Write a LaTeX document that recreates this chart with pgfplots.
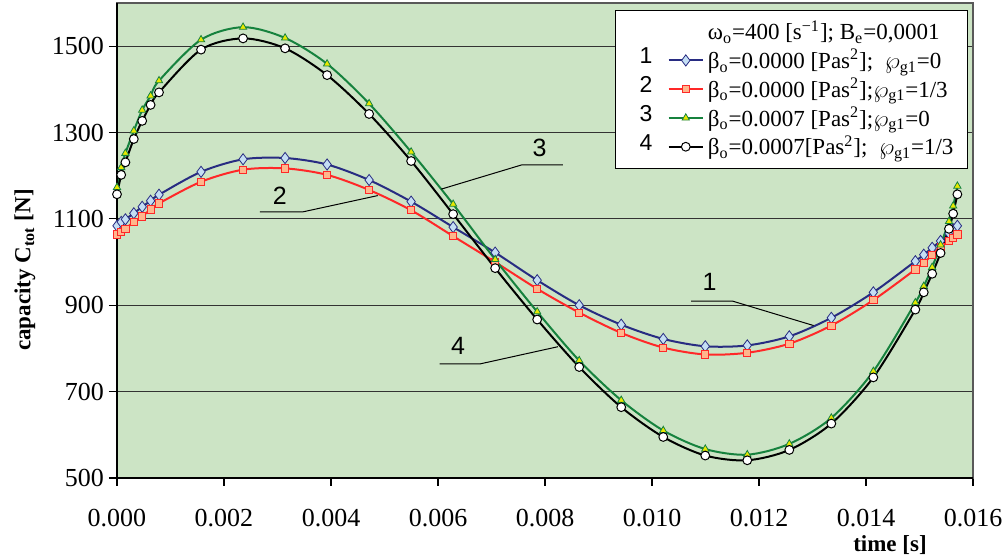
\documentclass[border=0pt]{standalone}
\usepackage{fontspec}
\setmainfont{Liberation Serif}
\newfontfamily\arial{Liberation Sans}
\usepackage{pgfplots}
\pgfplotsset{compat=1.18}
\usepackage{pgfplotstable}
\definecolor{bg}{RGB}{204,228,197}
\definecolor{navy}{RGB}{40,44,130}
\definecolor{lblue}{RGB}{196,222,244}
\definecolor{cred}{RGB}{255,40,40}
\definecolor{lorange}{RGB}{255,182,140}
\definecolor{cgreen}{RGB}{22,130,62}
\definecolor{cyellow}{RGB}{232,232,0}

\pgfplotstableread{
t s1 s2 s3 s4
0         1084 1064 1173 1157
0.0000785 1093 1070 1219 1202
0.0001571 1099 1077 1252 1231
0.0003142 1113 1093 1304 1285
0.0004712 1128 1106 1352 1327
0.0006283 1142 1122 1385 1364
0.0007854 1156 1136 1420 1393
0.0015708 1209 1186 1515 1492
0.0023562 1238 1214 1544 1518
0.0031416 1241 1217 1519 1495
0.0039270 1226 1202 1459 1433
0.0047124 1190 1167 1367 1343
0.0054978 1140 1120 1255 1234
0.0062832 1081 1060 1134 1111
0.0070686 1022 1000 1006 986
0.0078540 958  938  885  867
0.0086394 900  883  772  757
0.0094248 855  836  680  664
0.0102102 822  802  610  595
0.0109956 805  786  567  552
0.0117810 807  790  554  541
0.0125664 828  811  579  565
0.0133518 871  853  639  626
0.0141372 930  912  747  733
0.0149226 1002 983  906  890
0.0150796 1017 999  944  930
0.0152367 1033 1016 988  973
0.0153938 1049 1036 1040 1021
0.0155509 1067 1049 1094 1077
0.0156294 1076 1056 1130 1112
0.0157080 1084 1064 1176 1157
}\datatable

\pgfplotsset{
  numimg/.style={legend image code/.code={
    \path (-21pt,0pt);
    \node[font=\arial\fontsize{11.5}{13}\selectfont, text=black, inner sep=0pt] at (-15pt,1.5pt) {#1};
    \draw[mark repeat=2,mark phase=2,##1] plot coordinates {(0cm,0cm) (0.3cm,0cm) (0.6cm,0cm)};
  }},
}

\begin{document}
\begin{tikzpicture}
\begin{axis}[
  scale only axis, width=428pt, height=237.5pt,
  xmin=0, xmax=0.016, ymin=500, ymax=1600,
  clip=false,
  xtick={0,0.002,0.004,0.006,0.008,0.01,0.012,0.014,0.016},
  ytick={500,700,900,1100,1300,1500},
  ymajorgrids, grid style={black!80, line width=0.5pt},
  axis background/.style={fill=bg},
  tick align=outside, major tick length=4pt,
  xtick pos=lower, ytick pos=left,
  tick style={black, line width=0.6pt},
  axis line style={gray!70!black, line width=0.6pt},
  scaled x ticks=false,
  xticklabel style={/pgf/number format/fixed, /pgf/number format/fixed zerofill, /pgf/number format/precision=3, yshift=-8pt},
  yticklabel style={/pgf/number format/1000 sep={}, xshift=1pt},
  /pgf/number format/assume math mode=true,
  tick label style={font=\fontsize{13}{15}\selectfont},
  xlabel={time [s]},
  ylabel={capacity C\textsubscript{tot} [N]},
  every axis x label/.style={at={(axis description cs:0.903,-0.141)}, anchor=center, font=\bfseries\fontsize{11.5}{13}\selectfont},
  every axis y label/.style={at={(axis description cs:-0.1075,0.438)}, rotate=90, anchor=center, font=\bfseries\fontsize{11.5}{13}\selectfont},
  legend cell align=left,
  legend style={at={(rel axis cs:0.994,0.985)}, anchor=north east, draw=black, fill=white,
    font=\fontsize{11.5}{13}\selectfont, row sep=-0.8pt, inner xsep=5pt, inner ysep=3pt},
]
\addlegendimage{empty legend}
\addlegendentry{ω\textsubscript{o}=400 [s\textsuperscript{−1}]; B\textsubscript{e}=0,0001}

\addplot[color=navy, line width=1pt, smooth, mark=diamond*, mark size=2.8pt,
  mark options={fill=lblue, draw=navy, line width=0.4pt, solid}, numimg=1]
  table[x=t, y=s1]{\datatable};
\addlegendentry{β\textsubscript{o}=0.0000 [Pas\textsuperscript{2}];\ \ $\wp$\textsubscript{g1}=0}

\addplot[color=cred, line width=1pt, smooth, mark=square*, mark size=1.8pt,
  mark options={fill=lorange, draw=cred, line width=0.4pt, solid}, numimg=2]
  table[x=t, y=s2]{\datatable};
\addlegendentry{β\textsubscript{o}=0.0000 [Pas\textsuperscript{2}];$\wp$\textsubscript{g1}=1/3}

\addplot[color=cgreen, line width=1pt, smooth, mark=triangle*, mark size=2.1pt,
  mark options={fill=cyellow, draw=cgreen, line width=0.4pt, solid}, numimg=3]
  table[x=t, y=s3]{\datatable};
\addlegendentry{β\textsubscript{o}=0.0007 [Pas\textsuperscript{2}];$\wp$\textsubscript{g1}=0}

\addplot[color=black, line width=1pt, smooth, mark=*, mark size=2.2pt,
  mark options={fill=white, draw=black, line width=0.5pt, solid}, numimg=4]
  table[x=t, y=s4]{\datatable};
\addlegendentry{β\textsubscript{o}=0.0007[Pas\textsuperscript{2}];\ \ $\wp$\textsubscript{g1}=1/3}

% axis lines left and bottom
\draw[black, line width=0.8pt] (rel axis cs:0,1) -- (rel axis cs:0,0) -- (rel axis cs:1,0);

% series labels with leader lines
\draw[black, line width=0.5pt] (axis cs:0.008334,1225) -- (axis cs:0.007563,1225) -- (axis cs:0.006063,1169);
\node[font=\arial\fontsize{12.5}{14}\selectfont] at (axis cs:0.0079,1264) {3};
\draw[black, line width=0.5pt] (axis cs:0.00267,1116) -- (axis cs:0.003464,1116) -- (axis cs:0.004874,1154);
\node[font=\arial\fontsize{12.5}{14}\selectfont] at (axis cs:0.003044,1153) {2};
\draw[black, line width=0.5pt] (axis cs:0.006032,764) -- (axis cs:0.006779,764) -- (axis cs:0.008241,804);
\node[font=\arial\fontsize{12.5}{14}\selectfont] at (axis cs:0.006374,805) {4};
\draw[black, line width=0.5pt] (axis cs:0.010732,909.5) -- (axis cs:0.011509,909.5) -- (axis cs:0.013021,853);
\node[font=\arial\fontsize{12.5}{14}\selectfont] at (axis cs:0.011074,953) {1};
\end{axis}
\pgfresetboundingbox
\path[use as bounding box] (-58.5pt,-41pt) rectangle (445pt,239pt);
\end{tikzpicture}
\end{document}
